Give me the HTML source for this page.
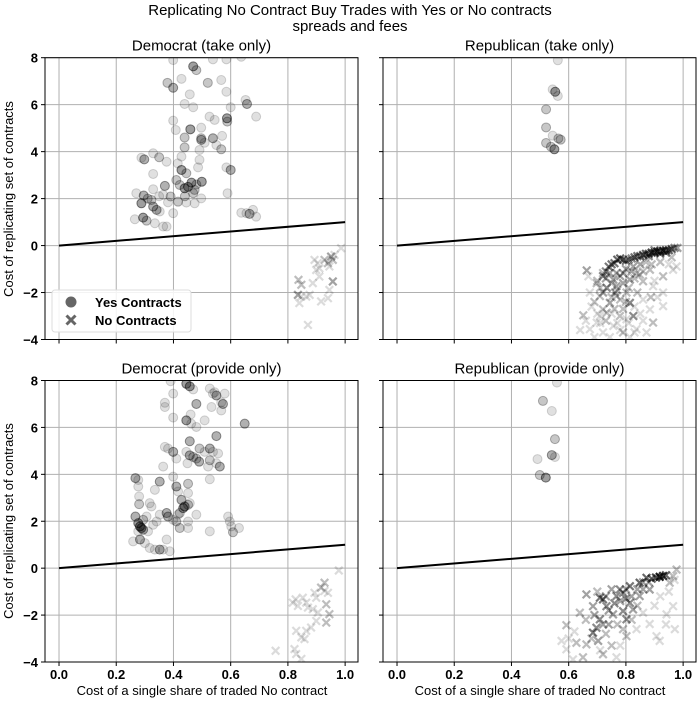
<!DOCTYPE html>
<html><head><meta charset="utf-8">
<style>
body{margin:0;background:#fff;}
svg text{font-family:"Liberation Sans",sans-serif;fill:#000;}
.tk{font-size:13px;font-weight:bold;}
</style></head>
<body>
<svg id="chart" width="700" height="704" viewBox="0 0 700 704" xmlns="http://www.w3.org/2000/svg">
<text x="350" y="15" text-anchor="middle" font-size="15">Replicating No Contract Buy Trades with Yes or No contracts</text>
<text x="350" y="31" text-anchor="middle" font-size="15">spreads and fees</text>
<text transform="translate(13,199) rotate(-90)" text-anchor="middle" font-size="13">Cost of replicating set of contracts</text>
<text transform="translate(13,521) rotate(-90)" text-anchor="middle" font-size="13">Cost of replicating set of contracts</text>
<text x="202" y="695" text-anchor="middle" font-size="13">Cost of a single share of traded No contract</text>
<text x="540" y="695" text-anchor="middle" font-size="13">Cost of a single share of traded No contract</text>
</svg>
<script>
const xTicks = [0, 0.2, 0.4, 0.6, 0.8, 1.0];
const xTickLabels = ["0.0","0.2","0.4","0.6","0.8","1.0"];
const yTicks = [-4, -2, 0, 2, 4, 6, 8];
const yTickLabels = ["\u22124","\u22122","0","2","4","6","8"];
const panelTitles = ["Democrat (take only)","Republican (take only)","Democrat (provide only)","Republican (provide only)"];
// [x, y, multiplicity]
const demTakeYes = [[0.379,6.93,2],[0.399,6.72,3],[0.469,7.63,4],[0.48,7.47,2],[0.399,7.9],[0.428,7.1],[0.52,6.93,2],[0.567,7.05],[0.585,6.55],[0.6,5.89],[0.657,6.03,3],[0.652,6.2],[0.689,5.49],[0.587,5.42,4],[0.588,5.28,2],[0.544,5.35],[0.526,5.49],[0.457,6.44],[0.439,6.03],[0.469,5.89],[0.399,5.32],[0.408,4.92],[0.459,4.95,4],[0.439,4.6,2],[0.497,5.02],[0.497,4.57,2],[0.497,4.5,3],[0.509,4.38],[0.538,4.57,3],[0.567,4.1,2],[0.57,4.67],[0.55,4.28],[0.491,4.07],[0.439,4.18,2],[0.298,3.67,3],[0.288,3.74],[0.329,3.93],[0.35,3.76,2],[0.376,3.57],[0.329,3.05],[0.6,3.22,3],[0.585,3.33],[0.428,3.79],[0.428,3.22,4],[0.415,3.5],[0.445,3.08,2],[0.491,3.65],[0.486,3.33],[0.499,2.72,4],[0.463,2.68,4],[0.439,2.44,4],[0.422,2.58,2],[0.41,2.79,2],[0.37,2.54,3],[0.329,2.4],[0.296,2.13,3],[0.288,1.8,4],[0.27,2.23],[0.323,1.94,2],[0.329,1.66,3],[0.341,1.52,3],[0.352,1.45],[0.294,1.19,4],[0.306,1.06,2],[0.265,1.12],[0.335,0.95],[0.364,0.81],[0.376,0.81],[0.381,1.84],[0.399,1.38],[0.416,1.87,2],[0.445,1.83],[0.474,1.8],[0.497,2.01],[0.469,2.23,2],[0.589,2.23],[0.637,1.4],[0.666,1.35,3],[0.678,1.52],[0.689,1.23],[0.655,1.38],[0.39,2.09,2],[0.364,2.16],[0.538,7.93],[0.637,8.04],[0.585,7.93],[0.451,2.5,4],[0.474,2.37,2],[0.31,2.0,2],[0.35,2.1],[0.44,2.1,2],[0.48,2.6,2]];
const demTakeNo = [[0.837,-1.46,2],[0.847,-1.67,2],[0.835,-2.1,3],[0.847,-2.17],[0.864,-2.17],[0.876,-2.1],[0.893,-0.61],[0.899,-1.04],[0.91,-0.97],[0.928,-0.61,2],[0.94,-0.75,2],[0.951,-0.47,3],[0.957,-0.61,2],[0.963,-0.4],[0.945,-0.89],[0.957,-1.53,3],[0.986,-0.11],[0.91,-1.32],[0.916,-2.38],[0.94,-2.24],[0.945,-1.89],[0.87,-3.38],[0.84,-2.45],[0.904,-0.75],[0.887,-1.6]];
const repTakeYes = [[0.562,7.89],[0.544,6.65],[0.553,6.55,4],[0.562,6.37],[0.521,5.8,2],[0.521,5.03,2],[0.544,4.68],[0.564,4.56,2],[0.572,4.51,2],[0.521,4.37,2],[0.538,4.21,2],[0.55,4.1,4]];
const repTakeNo = [[0.72,-1.3,4],[0.73,-1.1,4],[0.74,-0.9,5],[0.75,-0.8,5],[0.76,-0.75,5],[0.77,-0.6,6],[0.78,-0.55,6],[0.79,-0.6,5],[0.8,-0.65,5],[0.81,-0.6,4],[0.82,-0.55,4],[0.83,-0.5,5],[0.84,-0.45,5],[0.85,-0.45,5],[0.86,-0.4,6],[0.87,-0.35,6],[0.88,-0.35,6],[0.89,-0.3,7],[0.9,-0.3,8],[0.91,-0.25,8],[0.92,-0.25,8],[0.93,-0.22,8],[0.94,-0.2,7],[0.95,-0.2,6],[0.96,-0.15,5],[0.97,-0.1,4],[0.98,-0.1,3],[0.9,-0.2,4],[0.92,-0.35,4],[0.94,-0.3,4],[0.88,-0.45,4],[0.663,-1.06,3],[0.669,-1.31],[0.72,-1.17,2],[0.733,-1.8,4],[0.72,-2.0,3],[0.744,-2.44,3],[0.767,-2.15,2],[0.814,-2.44,4],[0.826,-3.0,4],[0.895,-3.28,2],[0.837,-3.56],[0.79,-3.7,2],[0.651,-2.97,2],[0.709,-3.0],[0.733,-2.86,2],[0.756,-3.42],[0.72,-3.7],[0.93,-1.31,2],[0.93,-2.0],[0.93,-2.58],[0.884,-2.72],[0.887,-2.2,2],[0.86,-1.52,2],[0.837,-1.17,2],[0.884,-1.03,2],[0.965,-1.03],[0.977,-0.89],[0.79,-1.6,3],[0.814,-1.45,3],[0.802,-2.0,2],[0.767,-1.73,3],[0.709,-2.15,2],[0.698,-1.6,2],[0.674,-2.0],[0.779,-3.0,2],[0.802,-3.14],[0.86,-2.3],[0.895,-1.73],[0.744,-1.17,3],[0.79,-1.17,3],[0.826,-0.89,3],[0.849,-1.24,2],[0.767,-1.17,3],[0.756,-1.45,3],[0.762,-2.0,3],[0.72,-2.72,2],[0.698,-3.28],[0.674,-3.56],[0.744,-3.9],[0.814,-3.9],[0.872,-3.7],[0.83,-3.7],
 [0.7,-1.5,2],[0.71,-1.8,2],[0.73,-1.4,3],[0.75,-1.6,2],[0.75,-2.2,2],[0.77,-1.9,2],[0.78,-2.3,2],[0.78,-1.3,3],[0.8,-1.0,3],[0.81,-1.8,2],[0.82,-1.1,3],[0.83,-1.4,2],[0.84,-2.0,2],[0.85,-0.8,3],[0.86,-1.1,2],[0.87,-0.7,2],[0.69,-2.4,2],[0.7,-2.9],[0.71,-3.3],[0.73,-3.2,2],[0.76,-2.7,2],[0.77,-3.3],[0.79,-2.7,2],[0.81,-3.3],[0.83,-2.6],[0.85,-2.9],[0.66,-3.2],[0.68,-2.6],[0.9,-1.5],[0.91,-2.2],[0.95,-0.8],[0.96,-0.5,2],[0.92,-0.7,2],[0.89,-0.8,2],[0.75,-2.9],[0.64,-3.6],[0.69,-3.9],[0.78,-3.6],[0.86,-3.2],[0.8,-2.4,2]];
const demProvYes = [[0.39,7.97],[0.445,7.86,4],[0.457,7.75,4],[0.469,7.62],[0.399,7.44],[0.37,7.05],[0.37,6.87],[0.399,6.42],[0.445,6.3,4],[0.462,6.16],[0.48,6.02],[0.46,6.55],[0.48,7.0,3],[0.509,6.3],[0.527,7.66],[0.538,7.44],[0.544,7.5],[0.55,7.36,3],[0.567,7.07],[0.573,7.0,3],[0.579,7.44],[0.567,6.72],[0.533,6.87],[0.649,6.16,3],[0.37,5.17],[0.381,5.1],[0.399,4.96,3],[0.41,4.67],[0.457,5.41,3],[0.445,4.96],[0.457,4.81,3],[0.469,4.74,2],[0.48,4.67,2],[0.49,4.54,3],[0.449,4.47],[0.491,5.1,2],[0.509,4.96],[0.527,5.1,3],[0.538,4.96],[0.527,4.6,2],[0.521,4.33],[0.527,3.79],[0.55,4.47],[0.562,4.33,3],[0.55,5.63,3],[0.556,4.89],[0.364,4.33],[0.352,3.69,3],[0.335,3.34],[0.399,3.9],[0.41,3.48,3],[0.416,3.27],[0.428,2.91,3],[0.439,2.63,4],[0.434,2.56,4],[0.451,2.7,2],[0.457,2.77],[0.451,3.2],[0.451,3.6,2],[0.48,2.28],[0.416,2.28],[0.422,2.35,2],[0.41,1.99,2],[0.399,2.06],[0.451,1.99],[0.422,1.71,2],[0.451,1.71],[0.381,2.2,3],[0.376,2.35,3],[0.352,2.28],[0.341,1.99],[0.323,2.63],[0.317,2.77],[0.267,3.84,3],[0.277,3.76],[0.277,3.48],[0.28,3.06],[0.28,2.73,2],[0.267,2.2,3],[0.277,1.92,4],[0.283,1.78,5],[0.288,1.71,4],[0.294,1.64,3],[0.277,1.57],[0.259,1.14],[0.283,1.22,3],[0.3,1.07],[0.317,0.86],[0.335,0.79],[0.352,0.79,3],[0.364,0.79],[0.376,1.22],[0.387,0.72],[0.306,2.2],[0.329,1.85],[0.311,1.57],[0.294,2.06,2],[0.527,1.57],[0.591,2.2],[0.597,1.99],[0.602,1.78],[0.608,1.53,2],[0.629,1.71]];
const demProvNo = [[0.827,-1.33],[0.817,-1.47],[0.835,-1.61],[0.852,-1.26],[0.864,-1.47],[0.87,-1.68],[0.893,-1.05],[0.899,-1.26],[0.916,-0.83,2],[0.928,-0.62,2],[0.928,-0.97],[0.934,-1.54,2],[0.94,-1.05],[0.945,-1.96,2],[0.934,-2.32,2],[0.899,-2.25],[0.881,-2.53],[0.864,-2.67],[0.829,-2.67],[0.847,-2.95],[0.858,-3.02],[0.823,-3.45],[0.829,-3.66],[0.847,-3.87],[0.757,-3.52],[0.978,-0.1],[0.905,-1.89],[0.887,-1.75]];
const repProvYes = [[0.559,7.91],[0.51,7.13,2],[0.541,6.7],[0.552,5.5,2],[0.541,4.82,3],[0.552,4.74],[0.491,4.65],[0.499,3.97,2],[0.52,3.86,4]];
const repProvNo = [[0.918,-0.37,15],[0.93,-0.33,10],[0.905,-0.4,8],[0.94,-0.3,6],[0.662,-1.12,3],[0.709,-1.26,5],[0.72,-1.33,5],[0.767,-1.19,4],[0.779,-0.91,4],[0.814,-0.77,5],[0.848,-0.62,6],[0.872,-0.41,6],[0.89,-0.45,6],[0.977,-0.06,2],[0.965,-0.34,2],[0.953,-0.62,2],[0.965,-1.62],[0.942,-1.97],[0.971,-2.6],[0.883,-2.38],[0.918,-3.1],[0.907,-2.9],[0.802,-2.18,4],[0.79,-1.83,4],[0.755,-1.97,3],[0.709,-2.18,4],[0.697,-2.54,4],[0.685,-2.75,5],[0.703,-3.1,3],[0.662,-3.25,2],[0.615,-3.89],[0.592,-2.43,2],[0.575,-3.1],[0.592,-3.46],[0.65,-3.8,2],[0.72,-3.67,2],[0.767,-3.8],[0.802,-2.9,2],[0.837,-2.6],[0.825,-1.76,3],[0.814,-1.48,4],[0.848,-1.19,3],[0.883,-0.91,3],[0.79,-1.05,4],[0.732,-1.62,4],[0.685,-1.62,3],[0.639,-1.9,2],[0.627,-3.18,2],[0.76,-1.5,4],[0.8,-1.3,4],[0.74,-2.4,3],[0.86,-0.9,3],
 [0.7,-1.0,2],[0.73,-1.2,3],[0.75,-0.9,3],[0.78,-1.4,3],[0.8,-0.9,3],[0.82,-1.2,3],[0.84,-0.9,3],[0.86,-0.6,3],[0.88,-0.6,3],[0.77,-2.4,2],[0.79,-2.6,2],[0.73,-2.8,2],[0.75,-3.3,2],[0.71,-3.5],[0.68,-3.0,2],[0.66,-2.2,2],[0.62,-2.7],[0.6,-3.0],[0.82,-2.2,2],[0.84,-1.6,2],[0.86,-1.9],[0.9,-1.6],[0.92,-1.2],[0.95,-1.0],[0.97,-0.5],[0.94,-2.4],[0.78,-3.3],[0.69,-2.0,3],[0.72,-2.4,3],[0.74,-1.8,3]];
const lineX = [0, 1];
const lineY = [0, 1];

const NS = "http://www.w3.org/2000/svg";
const svg = document.getElementById("chart");
function mk(tag, attrs, parent){const e=document.createElementNS(NS,tag);for(const k in attrs)e.setAttribute(k,attrs[k]);(parent||svg).appendChild(e);return e;}
const panels = [
 {l:45,r:358,t:57.7,b:339.5,yes:demTakeYes,no:demTakeNo,xl:false,yl:true,key:"dem-take"},
 {l:383,r:696,t:57.7,b:339.5,yes:repTakeYes,no:repTakeNo,xl:false,yl:false,key:"rep-take"},
 {l:45,r:358,t:380.5,b:662,yes:demProvYes,no:demProvNo,xl:true,yl:true,key:"dem-provide"},
 {l:383,r:696,t:380.5,b:662,yes:repProvYes,no:repProvNo,xl:true,yl:false,key:"rep-provide"}
];
const XMIN=-0.049, XMAX=1.045, YMIN=-4, YMAX=8;
panels.forEach((p,i)=>{
  const sx=v=>p.l+(v-XMIN)/(XMAX-XMIN)*(p.r-p.l);
  const sy=v=>p.b-(v-YMIN)/(YMAX-YMIN)*(p.b-p.t);
  const g=mk("g",{});
  
  
  const cp="clip"+i;
  const cpe=mk("clipPath",{id:cp},g); mk("rect",{x:p.l,y:p.t,width:p.r-p.l,height:p.b-p.t},cpe);
  const title=mk("text",{x:(p.l+p.r)/2,y:p.t-7,"text-anchor":"middle","font-size":"15"},g);
  title.textContent=panelTitles[i];
  
  
  xTicks.forEach((v,j)=>{
    const gl=mk("line",{x1:sx(v),x2:sx(v),y1:p.t,y2:p.b,stroke:"#b0b0b0","stroke-width":1},g);
    
    
    mk("line",{x1:sx(v),x2:sx(v),y1:p.b,y2:p.b+4,stroke:"#000","stroke-width":1},g);
    if(p.xl){const t=mk("text",{x:sx(v),y:p.b+17,"text-anchor":"middle","class":"tk"},g);t.textContent=xTickLabels[j];
      
      }
  });
  yTicks.forEach((v,j)=>{
    const gl=mk("line",{x1:p.l,x2:p.r,y1:sy(v),y2:sy(v),stroke:"#b0b0b0","stroke-width":1},g);
    
    
    mk("line",{x1:p.l-4,x2:p.l,y1:sy(v),y2:sy(v),stroke:"#000","stroke-width":1},g);
    if(p.yl){const t=mk("text",{x:p.l-7,y:sy(v)+5,"text-anchor":"end","class":"tk"},g);t.textContent=yTickLabels[j];
      
      }
  });
  const pg=mk("g",{"clip-path":"url(#"+cp+")"},g);
  p.yes.forEach(d=>{
    const n=d[2]||1; const op=1-Math.pow(0.84,n);
    const c=mk("circle",{cx:sx(d[0]),cy:sy(d[1]),r:4.5,fill:"#000","fill-opacity":op*0.75,stroke:"#000","stroke-opacity":op,"stroke-width":1},pg);
    
    
  });
  p.no.forEach(d=>{
    const n=d[2]||1; const op=1-Math.pow(0.86,n);
    const x=sx(d[0]), y=sy(d[1]), s=3.8;
    const m=mk("path",{d:`M${x-s},${y-s}L${x+s},${y+s}M${x-s},${y+s}L${x+s},${y-s}`,stroke:"#000","stroke-opacity":op,"stroke-width":2.2},pg);
    
    
  });
  const ln=mk("line",{x1:sx(lineX[0]),y1:sy(lineY[0]),x2:sx(lineX[1]),y2:sy(lineY[1]),stroke:"#000","stroke-width":2},pg);
  
  
  const fr=mk("rect",{x:p.l,y:p.t,width:p.r-p.l,height:p.b-p.t,fill:"none",stroke:"#000","stroke-width":1},g);
  
  
});
// legend
const lg=mk("g",{});


mk("rect",{x:52,y:290,width:139,height:42,rx:3,fill:"#fff","fill-opacity":0.85,stroke:"#ddd"},lg);
mk("circle",{cx:71,cy:302,r:5.5,fill:"#666"},lg);
const lt1=mk("text",{x:95,y:307,"font-size":"13","font-weight":"bold"},lg); lt1.textContent="Yes Contracts";


mk("path",{d:"M66.5,315.5L75.5,324.5M66.5,324.5L75.5,315.5",stroke:"#666","stroke-width":3},lg);
const lt2=mk("text",{x:95,y:325,"font-size":"13","font-weight":"bold"},lg); lt2.textContent="No Contracts";


</script>
</body></html>
